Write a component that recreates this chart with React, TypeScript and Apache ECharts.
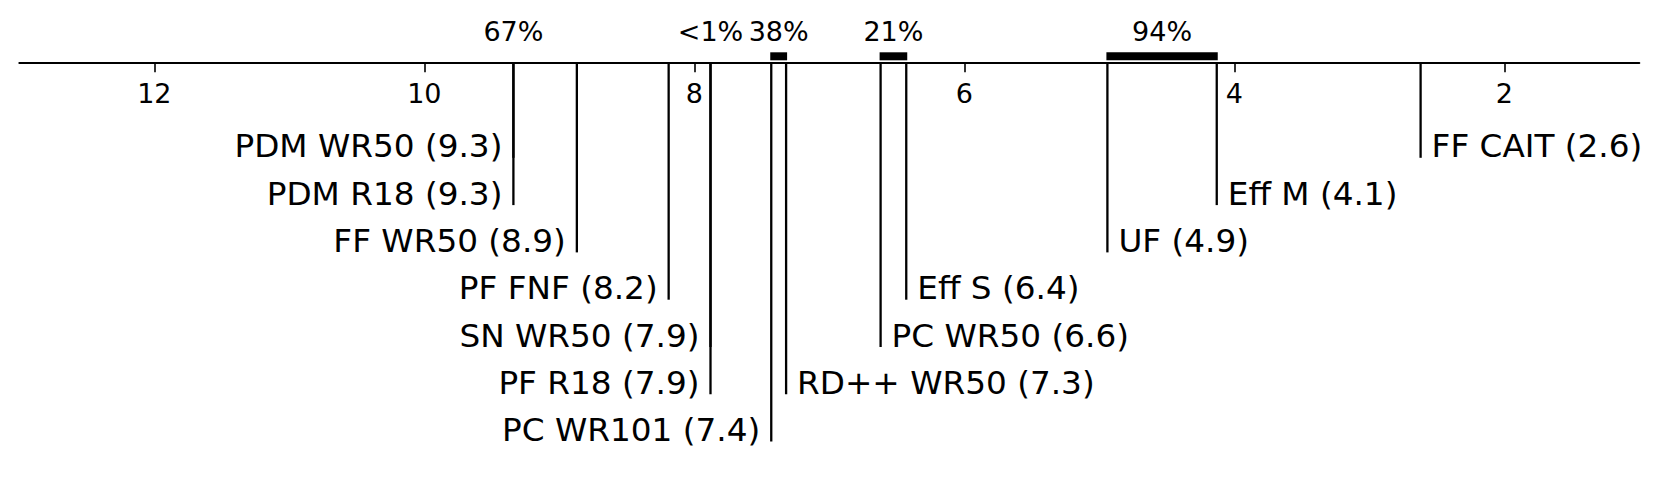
import React, { useEffect, useRef } from "react";
import * as echarts from "echarts";

// ---- data ----
const methods = [
  "PDM WR50",
  "PDM R18",
  "FF WR50",
  "PF FNF",
  "SN WR50",
  "PF R18",
  "PC WR101",
  "RD++ WR50",
  "PC WR50",
  "Eff S",
  "UF",
  "Eff M",
  "FF CAIT",
];
const avgRanks = [9.34, 9.34, 8.87, 8.19, 7.88, 7.88, 7.43, 7.32, 6.62, 6.43, 4.94, 4.13, 2.62];
const labelRows = [0, 1, 2, 3, 4, 5, 6, 5, 4, 3, 2, 1, 0];
const labelSides = ["left", "left", "left", "left", "left", "left", "left", "right", "right", "right", "right", "right", "right"];
const cliqueFrom = [0, 4, 6, 8, 10];
const cliqueTo = [1, 5, 7, 9, 11];
const cliqueLabels = ["67%", "<1%", "38%", "21%", "94%"];
const tickValues = [2, 4, 6, 8, 10, 12];

const FONT = '"DejaVu Sans", "Noto Sans", sans-serif';

export default function App() {
  const ref = useRef<HTMLDivElement>(null);

  useEffect(() => {
    document.body.style.margin = "0";
    if (!ref.current) return;
    const chart = echarts.init(ref.current, null, { renderer: "svg" });

    const methodData = methods.map((_, i) => [avgRanks[i], labelRows[i], i]);
    const cliqueData = cliqueFrom.map((f, k) => [
      Math.max(avgRanks[f], avgRanks[cliqueTo[k]]),
      Math.min(avgRanks[f], avgRanks[cliqueTo[k]]),
      k,
    ]);

    chart.setOption({
      animation: false,
      backgroundColor: "#ffffff",
      grid: { left: 19.3, right: 21.7, top: 63.2, bottom: 38.4 },
      xAxis: {
        type: "value",
        min: 1,
        max: 13,
        inverse: true,
        position: "top",
        splitLine: { show: false },
        axisLine: { show: true, lineStyle: { color: "#000", width: 2 } },
        axisTick: {
          show: true,
          inside: true,
          length: 9,
          lineStyle: { color: "#000", width: 1.6 },
          customValues: tickValues,
        },
        axisLabel: {
          show: true,
          inside: true,
          margin: 30,
          verticalAlign: "middle",
          color: "#000",
          fontSize: 27,
          fontFamily: FONT,
          customValues: tickValues,
        },
      },
      yAxis: {
        type: "value",
        min: 0,
        max: 8,
        inverse: true,
        show: false,
      },
      series: [
        {
          type: "custom",
          clip: false,
          data: methodData,
          renderItem: (params: any, api: any) => {
            const r = api.value(0);
            const row = api.value(1);
            const i = api.value(2);
            const top = api.coord([r, 0]);
            const end = api.coord([r, row + 2]);
            const left = labelSides[i] === "left";
            return {
              type: "group",
              children: [
                {
                  type: "line",
                  shape: { x1: top[0], y1: top[1], x2: end[0], y2: end[1] },
                  style: { stroke: "#000", lineWidth: 2.3 },
                },
                {
                  type: "text",
                  x: end[0] + (left ? -11 : 11),
                  y: end[1] - 11.5,
                  style: {
                    text: `${methods[i]} (${r.toFixed(1)})`,
                    align: left ? "right" : "left",
                    verticalAlign: "middle",
                    fontSize: 32.7,
                    fontFamily: FONT,
                    fill: "#000",
                  },
                },
              ],
            };
          },
        },
        {
          type: "custom",
          clip: false,
          data: cliqueData,
          renderItem: (params: any, api: any) => {
            const hi = api.value(0);
            const lo = api.value(1);
            const k = api.value(2);
            const a = api.coord([hi, 0]);
            const b = api.coord([lo, 0]);
            const w = b[0] - a[0];
            const children: any[] = [];
            if (w > 0.5) {
              children.push({
                type: "rect",
                shape: { x: a[0] - 1, y: a[1] - 10.9, width: w + 2, height: 8 },
                style: { fill: "#000" },
              });
            }
            children.push({
              type: "text",
              x: (a[0] + b[0]) / 2,
              y: a[1] - 32,
              style: {
                text: cliqueLabels[k],
                align: "center",
                verticalAlign: "middle",
                fontSize: 27,
                fontFamily: FONT,
                fill: "#000",
              },
            });
            return { type: "group", children };
          },
        },
      ],
    });

    return () => {
      chart.dispose();
    };
  }, []);

  return <div ref={ref} style={{ width: 1661, height: 480 }} />;
}
